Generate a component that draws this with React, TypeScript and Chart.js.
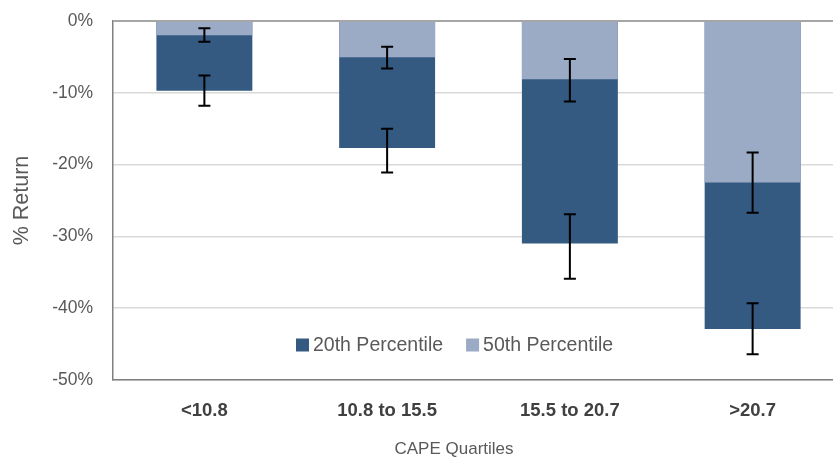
import { useEffect, useRef } from "react";
import { Chart, registerables } from "chart.js";

Chart.register(...registerables);

const categories = ["<10.8", "10.8 to 15.5", "15.5 to 20.7", ">20.7"];
const seriesNames = ["20th Percentile", "50th Percentile"];
const p20Values = [-9.7, -17.7, -31.0, -42.9];
const p20Low = [-11.8, -21.1, -35.9, -46.4];
const p20High = [-7.6, -15.0, -26.9, -39.3];
const p50Values = [-2.0, -5.05, -8.1, -22.5];
const p50Low = [-2.9, -6.6, -11.2, -26.7];
const p50High = [-1.0, -3.6, -5.3, -18.3];
const yMin = -50;
const yMax = 0;
const yStep = 10;
const xAxisTitle = "CAPE Quartiles";
const yAxisTitle = "% Return";

const FONT = "'Liberation Sans', Arial, sans-serif";
const DARK = "#345A82";
const LIGHT = "#9BABC6";

const errorBarPlugin = {
  id: "errorBars",
  afterDatasetsDraw(chart: any) {
    const { ctx } = chart;
    const yScale = chart.scales.y;
    ctx.save();
    ctx.strokeStyle = "#000";
    ctx.lineWidth = 2;
    chart.data.datasets.forEach((ds: any, di: number) => {
      const meta = chart.getDatasetMeta(di);
      meta.data.forEach((bar: any, i: number) => {
        const x = bar.x;
        const yl = yScale.getPixelForValue(ds.errLow[i]);
        const yh = yScale.getPixelForValue(ds.errHigh[i]);
        const cap = 6;
        ctx.beginPath();
        ctx.moveTo(x, yl);
        ctx.lineTo(x, yh);
        ctx.moveTo(x - cap, yl);
        ctx.lineTo(x + cap, yl);
        ctx.moveTo(x - cap, yh);
        ctx.lineTo(x + cap, yh);
        ctx.stroke();
      });
    });
    ctx.restore();
  },
};

const innerLegendPlugin = {
  id: "innerLegend",
  afterDraw(chart: any) {
    const { ctx } = chart;
    ctx.save();
    ctx.font = `19.5px ${FONT}`;
    ctx.textBaseline = "middle";
    ctx.textAlign = "left";
    let x = 296;
    const y = 345;
    const box = 13;
    const items = [...chart.data.datasets].sort((a: any, b: any) => a.legendIndex - b.legendIndex);
    items.forEach((ds: any) => {
      ctx.fillStyle = ds.backgroundColor;
      ctx.fillRect(x, y - box / 2, box, box);
      x += box + 4;
      ctx.fillStyle = "#595959";
      ctx.fillText(ds.label, x, y + 1);
      x += ctx.measureText(ds.label).width + 23;
    });
    ctx.font = `17px ${FONT}`;
    ctx.textAlign = "center";
    ctx.fillStyle = "#595959";
    ctx.fillText(xAxisTitle, 454, 449);
    ctx.restore();
  },
};

export default function App() {
  const ref = useRef<HTMLCanvasElement | null>(null);

  useEffect(() => {
    if (!ref.current) return;
    const chart = new Chart(ref.current, {
      type: "bar",
      data: {
        labels: categories,
        datasets: [
          {
            label: seriesNames[1],
            data: p50Values,
            backgroundColor: LIGHT,
            order: 1,
            errLow: p50Low,
            errHigh: p50High,
            legendIndex: 1,
          } as any,
          {
            label: seriesNames[0],
            data: p20Values,
            backgroundColor: DARK,
            order: 2,
            errLow: p20Low,
            errHigh: p20High,
            legendIndex: 0,
          } as any,
        ],
      },
      options: {
        animation: false,
        responsive: true,
        maintainAspectRatio: false,
        datasets: { bar: { barPercentage: 0.525, categoryPercentage: 1 } },
        layout: { padding: { top: 21, left: 0, right: 0, bottom: 0 } },
        plugins: {
          legend: { display: false },
          tooltip: { enabled: false },
        },
        scales: {
          x: {
            stacked: true,
            grid: { display: false },
            border: { display: true, color: "#808080", width: 1.5 },
            ticks: {
              color: "#404040",
              padding: 12,
              font: { family: FONT, size: 18.5, weight: "bold" },
            },
            afterFit(scale: any) {
              scale.height = 79;
              scale.paddingLeft = 0;
              scale.paddingRight = 0;
            },
          },
          y: {
            stacked: false,
            min: yMin,
            max: yMax,
            ticks: {
              stepSize: yStep,
              color: "#595959",
              padding: 20,
              font: { family: FONT, size: 17.5 },
              callback: (v: any) => `${v}%`,
            },
            grid: {
              drawTicks: false,
              color: (c: any) => (c.tick && c.tick.value === 0 ? "#a6a6a6" : "#d9d9d9"),
              lineWidth: (c: any) => (c.tick && c.tick.value === 0 ? 2 : 1.5),
            },
            border: { display: true, color: "#808080", width: 1.5 },
            title: {
              display: true,
              text: yAxisTitle,
              color: "#595959",
              font: { family: FONT, size: 21.5 },
              padding: { top: 9, bottom: 0 },
            },
            afterFit(scale: any) {
              scale.width = 113;
              scale.paddingTop = 0;
              scale.paddingBottom = 0;
            },
          },
        },
      } as any,
      plugins: [errorBarPlugin, innerLegendPlugin],
    });
    return () => chart.destroy();
  }, []);

  return (
    <div
      style={{
        position: "fixed",
        left: 0,
        top: 0,
        width: 833,
        height: 459,
        overflow: "hidden",
        background: "#fff",
      }}
    >
      <div style={{ position: "relative", width: 844, height: 459 }}>
        <canvas ref={ref} />
      </div>
    </div>
  );
}
